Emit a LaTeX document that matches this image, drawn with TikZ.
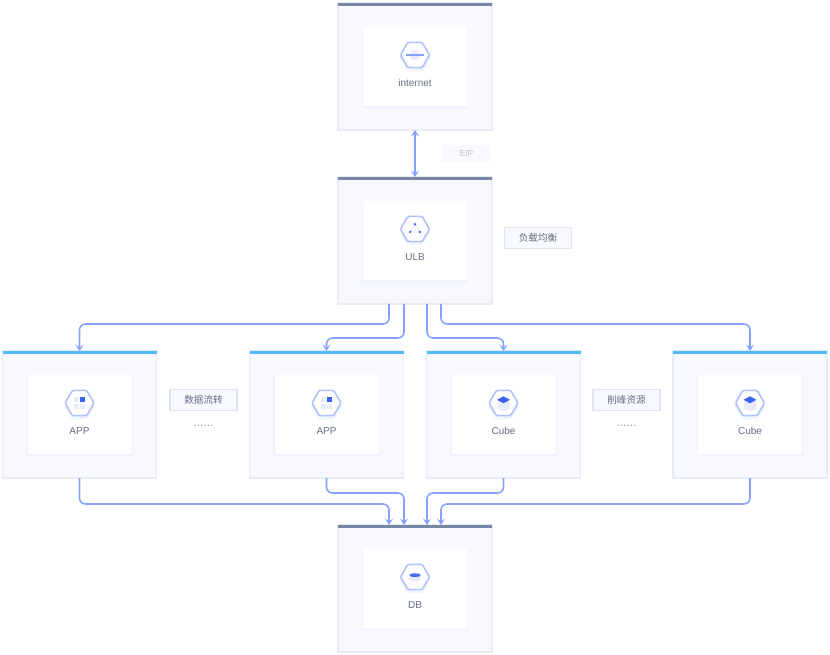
\documentclass[tikz,border=0pt]{standalone}
\usepackage{fontspec}
\setmainfont{Liberation Sans}
\newfontfamily\cjk{Noto Sans CJK SC}
\usetikzlibrary{shapes.geometric, arrows.meta, shadows, positioning}
\definecolor{stagefill}{HTML}{F8F9FF}
\definecolor{stageline}{HTML}{E9ECF7}
\definecolor{tagline}{HTML}{E0E4F0}
\definecolor{linkblue}{HTML}{85A2FF}
\definecolor{hexline}{HTML}{AFC1FF}
\definecolor{iconblue}{HTML}{3A62F0}
\definecolor{iconpale}{HTML}{E9ECFA}
\definecolor{darkbar}{HTML}{7887A3}
\definecolor{cyanbar}{HTML}{4DBBFC}
\definecolor{labelgrey}{HTML}{666E82}
\tikzset{
  stage/.style={rectangle, draw=stageline, line width=0.9pt, fill=stagefill, minimum width=115.5pt, minimum height=95.25pt, anchor=north, outer sep=0pt},
  card/.style={rectangle, fill=white, minimum width=78pt, minimum height=59.25pt, outer sep=0pt, drop shadow={shadow xshift=0pt, shadow yshift=-1.5pt, opacity=0.035, fill=iconblue, shadow scale=1.02}},
  hexa/.style={regular polygon, regular polygon sides=6, minimum size=21.75pt, inner sep=0pt, draw=hexline, line width=1.2pt, fill=white, rounded corners=1pt, drop shadow={shadow xshift=0pt, shadow yshift=-2pt, opacity=0.06, fill=iconblue, shadow scale=1.08}},
  boxname/.style={font=\fontsize{7.5}{9}\selectfont, text=labelgrey, inner sep=0pt},
  tag/.style={rectangle, draw=tagline, line width=1.1pt, fill=stagefill, minimum width=50.5pt, minimum height=15.75pt, inner sep=0pt, font=\cjk\fontsize{7.2}{9}\selectfont, text=labelgrey},
  dots/.style={font=\fontsize{9}{9}\selectfont, text=labelgrey!70, inner sep=0pt},
  link/.style={draw=linkblue, line width=1.15pt, rounded corners=4.5pt, -{Stealth[length=4.8pt, width=6pt, inset=2pt]}},
}
\begin{document}
\begin{tikzpicture}[x=0.75pt, y=-0.75pt]
\useasboundingbox (0,0) rectangle (830,655);
% boxes
\foreach \n/\x/\y/\lab/\col in {internet/415/3/internet/darkbar, ulb/415/177/ULB/darkbar, appa/79.5/351/APP/cyanbar, appb/326.5/351/APP/cyanbar, cubea/503.5/351/Cube/cyanbar, cubeb/750/351/Cube/cyanbar, db/415/525/DB/darkbar} {
  \node [stage] (\n) at (\x,\y) {};
  \fill [\col] (\n.north west) rectangle ([yshift=-2.25pt]\n.north east);
  \node [card] (\n-card) at (\x,\y+63.5) {};
  \node [hexa] (\n-hex) at (\x,\y+52) {};
  \node [boxname] (\n-name) at (\x,\y+80) {\lab};
}
% icons
\fill [iconpale] (internet-hex) circle [radius=3.9pt];
\draw [linkblue, line width=0.9pt] ([xshift=-6.5pt]internet-hex.center) -- ([xshift=6.5pt]internet-hex.center);
\draw [iconpale, line width=0.6pt] ([yshift=3.6pt]ulb-hex.center) -- ([xshift=-3.6pt,yshift=-2.2pt]ulb-hex.center) -- ([xshift=3.6pt,yshift=-2.2pt]ulb-hex.center) -- cycle;
\fill [iconblue] ([yshift=3.6pt]ulb-hex.center) circle [radius=1pt];
\fill [iconblue] ([xshift=-3.6pt,yshift=-2.2pt]ulb-hex.center) circle [radius=1pt];
\fill [iconblue] ([xshift=3.6pt,yshift=-2.2pt]ulb-hex.center) circle [radius=1pt];
\foreach \n in {appa, appb} {
  \fill [iconpale] ([xshift=-4.5pt,yshift=0.4pt]\n-hex.center) rectangle ++(3.9pt,3.9pt);
  \fill [iconpale] ([xshift=-4.5pt,yshift=-4.3pt]\n-hex.center) rectangle ++(3.9pt,3.9pt);
  \fill [iconpale] ([xshift=0.3pt,yshift=-4.3pt]\n-hex.center) rectangle ++(3.9pt,3.9pt);
  \fill [iconblue] ([xshift=0.3pt,yshift=0.4pt]\n-hex.center) rectangle ++(3.9pt,3.9pt);
}
\foreach \n in {cubea, cubeb} {
  \fill [iconpale] ([xshift=-4.6pt,yshift=1pt]\n-hex.center) -- ++(0pt,-5.2pt) -- ++(4.6pt,-2pt) -- ++(4.6pt,2pt) -- ++(0pt,5.2pt) -- ++(-4.6pt,2.4pt) -- cycle;
  \fill [iconblue] ([xshift=-4.8pt,yshift=2.4pt]\n-hex.center) -- ++(4.8pt,2.6pt) -- ++(4.8pt,-2.6pt) -- ++(-4.8pt,-2.6pt) -- cycle;
}
\fill [iconpale] ([yshift=-1pt]db-hex.center) ellipse [x radius=4.6pt, y radius=2.6pt];
\fill [iconblue!80!linkblue] ([yshift=1.4pt]db-hex.center) ellipse [x radius=4.4pt, y radius=1.4pt];
% side labels
\node [tag, text=labelgrey!40, draw=none, fill=stagefill, minimum width=36.75pt, minimum height=12.75pt, font=\fontsize{6.4}{8}\selectfont] (eip) at (466.5,153.5) {EIP};
\node [tag] (balance) at (538,238) {负载均衡};
\node [tag] (flow) at (203.5,400) {数据流转};
\node [tag] (peak) at (626.5,400) {削峰资源};
\node [dots] (flow-dots) at (203.5,426) {......};
\node [dots] (peak-dots) at (626.5,426) {......};
% connectors
\draw [link, {Stealth[length=4.8pt, width=6pt, inset=2pt]}-{Stealth[length=4.8pt, width=6pt, inset=2pt]}] (internet.south) -- (ulb.north);
\draw [link] ([xshift=-19.5pt]ulb.south) -- ++(0,20) -| (appa.north);
\draw [link] ([xshift=-8.25pt]ulb.south) -- ++(0,34) -| (appb.north);
\draw [link] ([xshift=9pt]ulb.south) -- ++(0,34) -| (cubea.north);
\draw [link] ([xshift=19.5pt]ulb.south) -- ++(0,20) -| (cubeb.north);
\draw [link] (appa.south) -- ++(0,26) -| ([xshift=-19.5pt]db.north);
\draw [link] (appb.south) -- ++(0,15) -| ([xshift=-8.25pt]db.north);
\draw [link] (cubea.south) -- ++(0,15) -| ([xshift=9pt]db.north);
\draw [link] (cubeb.south) -- ++(0,26) -| ([xshift=19.5pt]db.north);
\end{tikzpicture}
\end{document}
